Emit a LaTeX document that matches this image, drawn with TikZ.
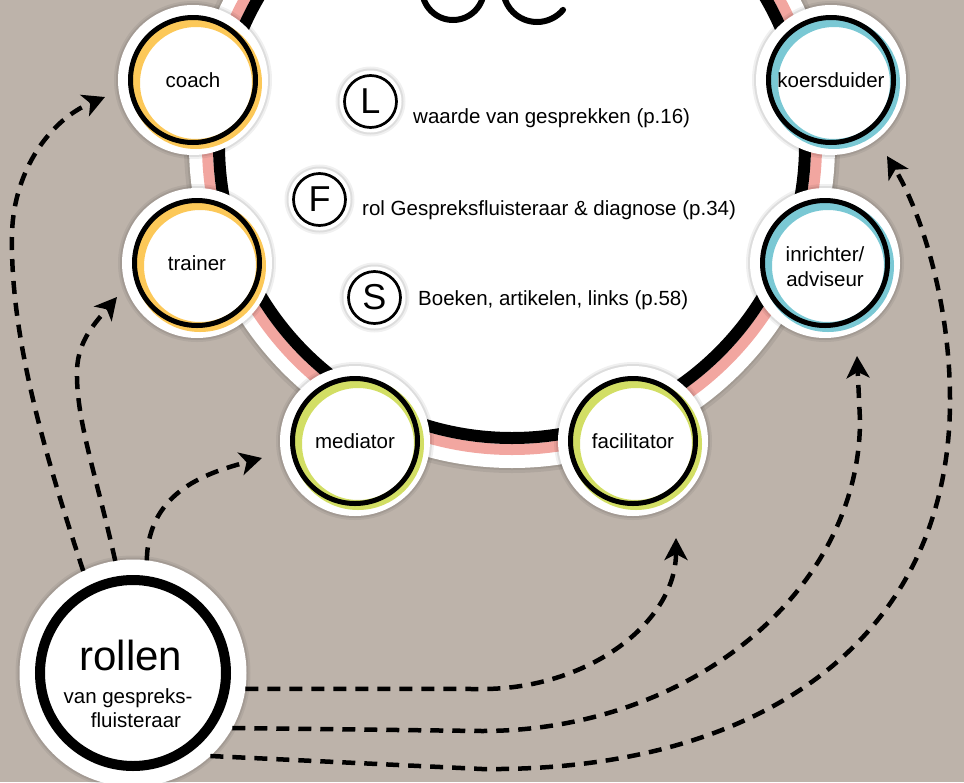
\documentclass[tikz,border=0pt]{standalone}
\usepackage{fontspec}
\setmainfont{Liberation Sans}
\usetikzlibrary{arrows.meta,calc}
\definecolor{bg}{RGB}{189,179,170}
\definecolor{ringpink}{RGB}{242,166,160}
\definecolor{cyellow}{RGB}{252,200,88}
\definecolor{cteal}{RGB}{122,200,212}
\definecolor{cgreen}{RGB}{210,222,100}
\tikzset{
  halo/.style={circle, fill=white, inner sep=0, outer sep=0,
    preaction={draw=black, draw opacity=0.06, line width=8},
    preaction={draw=black, draw opacity=0.08, line width=4}},
  rolehalo/.style={halo, minimum size=150},
  rolelabel/.style={inner sep=0, align=center, font=\fontsize{20.5}{25}\selectfont},
  letterhalo/.style={halo, minimum size=62, font=\fontsize{36}{36}\selectfont},
  bodytext/.style={anchor=base west, inner sep=0, font=\fontsize{20.5}{25}\selectfont},
  conn/.style={line width=4.5, dash pattern=on 13pt off 9pt,
    -{Stealth[length=22pt,width=23pt,inset=6pt]}},
}
\newcommand\rolecirc[5]{%
  \node[rolehalo] (#1) at (#2) {};
  \draw[#3, line width=10] ($(#1)+(3,3)$) circle (61);
  \draw[black, line width=5] (#1) circle (62.5);
  \node[rolelabel] (#1-t) at ($(#1)+(0,#5)$) {#4};
}
\begin{document}
\begin{tikzpicture}[x=1pt,y=-1pt]
\useasboundingbox (0,0) rectangle (964,782);
\clip (0,0) rectangle (964,782);
\fill[bg] (0,0) rectangle (964,782);

% big circle
\fill[black, opacity=0.07] (512,145) circle (328);
\fill[black, opacity=0.07] (512,145) circle (325);
\fill[white] (512,145) circle (323);
\draw[ringpink, line width=11] (512,145) circle (304.5);
\draw[black, line width=12] (512,145) circle (293);

% partial title letters at top
\draw[line width=6] (453,-11) circle (31);
\draw[line width=6, line cap=round] (537,-12) ++(180:34) arc[start angle=180, end angle=40, radius=34];

% letter circles and texts
\node[letterhalo] (Lc) at (370.5,101.5) {L};
\draw[line width=2.7] (Lc) circle (26);
\node[letterhalo] (Fc) at (319.5,199.5) {F};
\draw[line width=2.7] (Fc) circle (26);
\node[letterhalo] (Sc) at (374.5,297.5) {S};
\draw[line width=2.7] (Sc) circle (26);
\node[bodytext] (Lt) at (413,123) {waarde van gesprekken (p.16)};
\node[bodytext] (Ft) at (362,215) {rol Gespreksfluisteraar \& diagnose (p.34)};
\node[bodytext] (St) at (418,305) {Boeken, artikelen, links (p.58)};

% role circles
\rolecirc{coach}{193,80}{cyellow}{coach}{0}
\rolecirc{trainer}{197,263}{cyellow}{trainer}{0}
\rolecirc{koers}{831,80}{cteal}{koersduider}{0}
\rolecirc{inrichter}{825,263}{cteal}{inrichter/\\adviseur}{4}
\rolecirc{mediator}{355,441}{cgreen}{mediator}{0}
\rolecirc{facilitator}{633,441}{cgreen}{facilitator}{0}

% rollen
\node[halo, minimum size=227] (rollen) at (133,673) {};
\draw[black, line width=10] (rollen) circle (93);
\node[anchor=base, inner sep=0, font=\fontsize{42}{42}\selectfont] (rollen-t1) at (131,670) {rollen};
\node[anchor=base, inner sep=0, font=\fontsize{20.5}{24}\selectfont] (rollen-t2) at (128,703) {van gespreks-};
\node[anchor=base, inner sep=0, font=\fontsize{20.5}{24}\selectfont] (rollen-t3) at (136,727) {fluisteraar};

% arrow ends
\coordinate (tipA) at (105,97);
\coordinate (tipB) at (117,297);
\coordinate (tipC) at (262,458);
\coordinate (tipD) at (676,538);
\coordinate (tipE) at (857,356);
\coordinate (tipF) at (887,156);

\draw[conn] (rollen.116) .. controls (40,440) and (10,330) .. (12,233)
  .. controls (14,170) and (50,120) .. (tipA);
\draw[conn] (rollen.99) .. controls (95,470) and (76,420) .. (77,370)
  .. controls (78,340) and (96,322) .. (tipB);
\draw[conn] (rollen.83) .. controls (148,490) and (210,472) .. (tipC);
\draw[conn] (rollen.-8) -- (482,689) .. controls (589,689) and (676,622) .. (tipD);
\draw[conn] (rollen.-29) -- (482,731) .. controls (690,731) and (860,591) .. (860,420) -- (tipE);
\draw[conn] (rollen.-47) -- (482,769) .. controls (760,772) and (950,640) .. (950,400)
  .. controls (950,300) and (920,210) .. (tipF);
\end{tikzpicture}
\end{document}
